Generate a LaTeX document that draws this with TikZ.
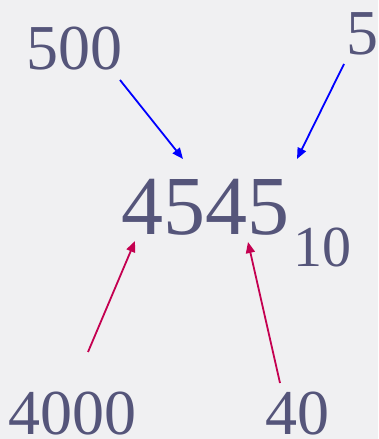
\documentclass[tikz,border=0pt]{standalone}
\usepackage{fontspec}
\setmainfont{Liberation Serif}
\usetikzlibrary{arrows.meta}
\definecolor{digitgray}{RGB}{85,85,122}
\definecolor{paper}{RGB}{240,240,242}
\definecolor{tipred}{RGB}{196,0,80}
\begin{document}
\begin{tikzpicture}[x=1pt, y=1pt,
    every node/.style={text=digitgray, inner sep=0pt, anchor=base},
    plc/.style={font=\fontsize{64}{64}\selectfont, text depth=0pt},
    tip/.style={line width=1.8pt, -{Triangle[length=11pt, width=9pt]}}]
  % background
  \fill[paper] (0,0) rectangle (378,439);
  \useasboundingbox (0,0) rectangle (378,439);

  % Number and its base
  \node[font=\fontsize{84}{84}\selectfont] (num) at (205,204) {4545};
  \node[font=\fontsize{58}{58}\selectfont] (base) at (322,172) {10};

  % Place values
  \node[plc] (hundreds) at (74,369) {500};
  \node[plc] (ones) at (362,384) {5};
  \node[plc] (thousands) at (73,5) {4000};
  \node[plc] (tens) at (297,5) {40};

  % Arrow ends
  \coordinate (h0) at (120,359);
  \coordinate (h1) at (183,280);
  \coordinate (o0) at (344,375);
  \coordinate (o1) at (297,280);
  \coordinate (t0) at (88,87);
  \coordinate (t1) at (135,198);
  \coordinate (d0) at (280,56);
  \coordinate (d1) at (248,197);

  % Arrows
  \draw[tip, blue] (h0) -- (h1);
  \draw[tip, blue] (o0) -- (o1);
  \draw[tip, tipred] (t0) -- (t1);
  \draw[tip, tipred] (d0) -- (d1);
\end{tikzpicture}
\end{document}
